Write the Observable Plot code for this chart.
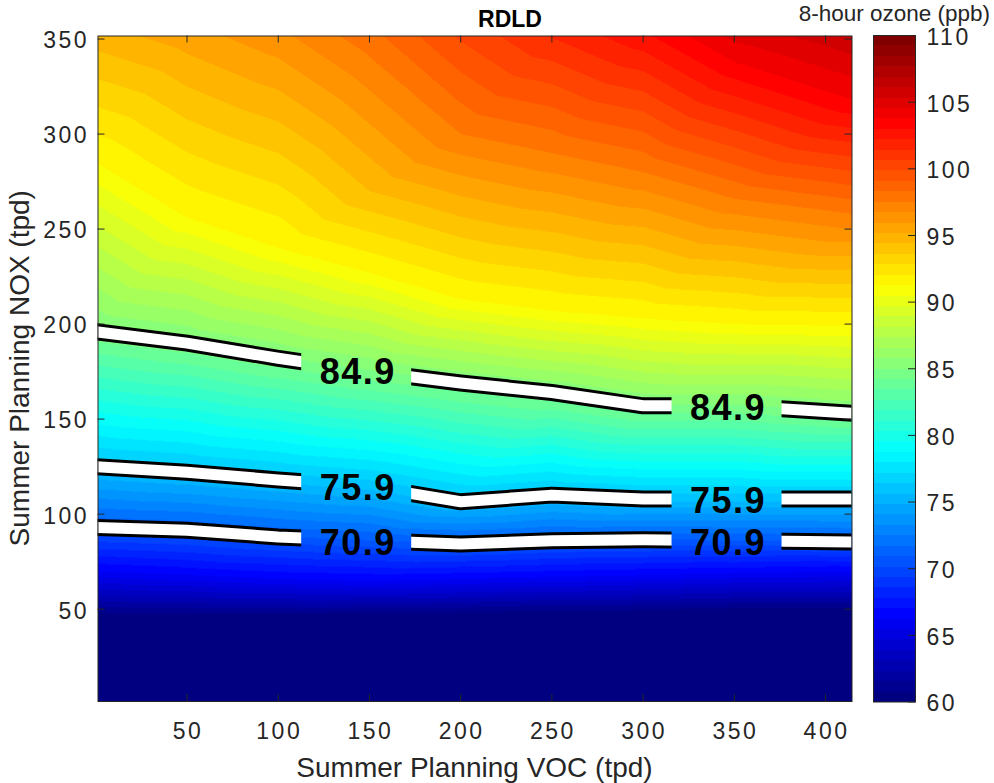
<!DOCTYPE html>
<html>
<head>
<meta charset="utf-8">
<script src="https://cdn.jsdelivr.net/npm/d3@7"></script>
<script src="https://cdn.jsdelivr.net/npm/@observablehq/plot@0.6"></script>
<style>
  body { margin: 0; background: #fff; }
  #chart { position: relative; width: 994px; height: 783px; }
  #chart svg { position: absolute; left: 0; top: 0; }
</style>
</head>
<body>
<div id="chart"></div>
<script>
// Grid columns (Summer Planning VOC, tpd) along which the ozone surface is sampled
const vocColumns = [0, 50, 100, 150, 200, 250, 300, 350, 415];
// 8-hour ozone (ppb) at the bottom (NOX = 0) and top (NOX = 352) of each column
const noxFloor = 0;
const noxCeiling = 352;
const ozoneAtFloor = [57, 57, 57, 57, 57, 57, 57, 57, 57];
const ozoneAtCeiling = [94.8, 95.6, 96.5, 98, 100, 101.5, 102.8, 104.8, 106];
// Ozone levels and the NOX (tpd) at which each level is reached along each column
const isoLevels = [60, 66.25, 70.9, 75.9, 84.9, 91.25, 97.5, 103.75];
const isoNox = [
  [45, 45, 45, 46, 46, 47, 47, 48, 48],
  [70, 68, 66, 65, 66, 67, 68, 69, 70],
  [93, 91.5, 88, 86, 84.3, 86, 86.5, 86, 85.3],
  [125, 122, 118, 114.5, 106.5, 110, 108, 108, 108],
  [196, 190, 182, 175, 169, 164, 157, 157, 153],
  [285, 256, 240, 227, 213, 207, 203, 200, 199],
  [null, null, null, null, 300, 290, 280, 266, 258],
  [null, null, null, null, null, null, null, 338, 318]
];
// Highlighted contours and the VOC positions of their inline labels
const contourLevels = [70.9, 75.9, 84.9];
const labelVoc = [143, 346];

// Axes
const vocRange = [1.2, 414.5];
const noxRange = [1.4, 351.6];
const ozoneRange = [60, 110];
const vocTicks = [50, 100, 150, 200, 250, 300, 350, 400];
const noxTicks = [50, 100, 150, 200, 250, 300, 350];
const ozoneTicks = [60, 65, 70, 75, 80, 85, 90, 95, 100, 105, 110];

// Sample points of the surface
const samples = [];
vocColumns.forEach((voc, j) => {
  samples.push({voc, nox: noxFloor, ozone: ozoneAtFloor[j]});
  isoLevels.forEach((level, i) => {
    const nox = isoNox[i][j];
    if (nox != null) samples.push({voc, nox, ozone: level});
  });
  samples.push({voc, nox: noxCeiling, ozone: ozoneAtCeiling[j]});
});

// Highlighted contour paths
const contourPaths = contourLevels.flatMap(level =>
  vocColumns.map((voc, j) => ({level, voc, nox: isoNox[isoLevels.indexOf(level)][j]}))
);

// Inline contour labels sit on their contour at the chosen VOC positions
const labels = contourLevels.flatMap(level => {
  const along = d3.scaleLinear(vocColumns, isoNox[isoLevels.indexOf(level)]);
  return labelVoc.map(voc => ({voc, nox: along(voc), text: level.toFixed(1)}));
});

// 64-step jet colormap, split evenly over 60–110 ppb
function jet(t) {
  const c = v => Math.max(0, Math.min(1, v));
  return d3.rgb(
    255 * c(1.5 - Math.abs(4 * t - 3)),
    255 * c(1.5 - Math.abs(4 * t - 2)),
    255 * c(1.5 - Math.abs(4 * t - 1))
  ).formatHex();
}
const nColors = 64;
const jetColors = d3.range(nColors).map(i => jet(i / (nColors - 1)));
const bandEdges = d3.range(1, nColors).map(i => ozoneRange[0] + i * (ozoneRange[1] - ozoneRange[0]) / nColors);
const colorScale = {type: "threshold", domain: bandEdges, range: jetColors};

const W = 994, H = 783;
const ink = "#262626";
const font = "'Liberation Sans', Arial, sans-serif";
const frame = {left: 97.5, right: 851.5, top: 35.5, bottom: 701};
const frameW = frame.right - frame.left;
const frameH = frame.bottom - frame.top;
const tickLen = 7;
const tickFont = 23;
const tickSpacing = "2.5px";

const contourLine = (stroke, strokeWidth) => Plot.line(contourPaths, {
  x: "voc", y: "nox", z: "level",
  stroke, strokeWidth,
  strokeLinejoin: "round",
  clip: true
});

const main = Plot.plot({
  width: W, height: H,
  marginLeft: frame.left, marginRight: W - frame.right,
  marginTop: frame.top, marginBottom: H - frame.bottom,
  style: {fontFamily: font, fontSize: `${tickFont}px`, color: ink, background: "none"},
  x: {domain: vocRange, label: null},
  y: {domain: noxRange, label: null},
  color: colorScale,
  marks: [
    Plot.raster(samples, {
      x: "voc", y: "nox", fill: "ozone",
      interpolate: "barycentric",
      x1: vocRange[0], x2: vocRange[1], y1: noxRange[0], y2: noxRange[1]
    }),
    contourLine("black", 17),
    contourLine("white", 11),
    Plot.text(labels, {
      x: "voc", y: "nox", text: "text",
      fontSize: 36, fontWeight: "bold", fill: "black", dy: 3, dx: 1
    }),
    Plot.frame({stroke: ink}),
    Plot.tickX(vocTicks, {x: d => d, insetTop: frameH - tickLen, stroke: ink}),
    Plot.tickX(vocTicks, {x: d => d, insetBottom: frameH - tickLen, stroke: ink}),
    Plot.tickY(noxTicks, {y: d => d, insetRight: frameW - tickLen, stroke: ink}),
    Plot.tickY(noxTicks, {y: d => d, insetLeft: frameW - tickLen, stroke: ink}),
    Plot.axisX({ticks: vocTicks, tickSize: 0, tickPadding: 21, fontSize: tickFont, dx: 1, label: null}),
    Plot.axisY({ticks: noxTicks, tickSize: 0, tickPadding: 9, fontSize: tickFont, dy: 2, label: null})
  ]
});

{
  const svg = d3.select(main);
  svg.selectAll('g[aria-label$="tick label"]').style("letter-spacing", tickSpacing);
  svg.selectAll('g[aria-label="text"]').style("letter-spacing", "1.5px");

  // Break the contour lines where their labels sit
  const xs = main.scale("x"), ys = main.scale("y");
  const defs = svg.insert("defs", ":first-child");
  const mask = defs.append("mask").attr("id", "label-gaps")
    .attr("maskUnits", "userSpaceOnUse")
    .attr("x", 0).attr("y", 0).attr("width", W).attr("height", H);
  mask.append("rect").attr("width", W).attr("height", H).attr("fill", "white");
  for (const d of labels) {
    mask.append("rect")
      .attr("x", xs.apply(d.voc) - 55).attr("y", ys.apply(d.nox) - 22)
      .attr("width", 110).attr("height", 44).attr("fill", "black");
  }
  const lines = svg.selectAll('g[aria-label="line"]').nodes();
  if (lines.length) {
    const wrap = svg.insert("g", () => lines[0]).attr("mask", "url(#label-gaps)");
    lines.forEach(n => wrap.node().appendChild(n));
  }
}

// Colorbar
const barLeft = 873, barRight = 915;
const bar = Plot.plot({
  width: W, height: H,
  marginLeft: barLeft, marginRight: W - barRight,
  marginTop: 35, marginBottom: H - 701.5,
  style: {fontFamily: font, fontSize: `${tickFont}px`, color: ink, background: "none"},
  x: {domain: [0, 1], axis: null},
  y: {domain: ozoneRange, label: null},
  color: colorScale,
  marks: [
    Plot.raster({fill: (x, y) => y, x1: 0, x2: 1, y1: ozoneRange[0], y2: ozoneRange[1], imageRendering: "pixelated"}),
    Plot.frame({stroke: ink}),
    Plot.tickY(ozoneTicks, {y: d => d, insetLeft: (barRight - barLeft) - tickLen, stroke: ink}),
    Plot.axisY({ticks: ozoneTicks, anchor: "right", tickSize: 0, tickPadding: 11, fontSize: tickFont, dy: 2, label: null})
  ]
});

// Titles and axis names
{
  const svg = d3.select(bar);
  svg.selectAll('g[aria-label$="tick label"]').style("letter-spacing", tickSpacing);
  const text = (s, x, y, opts = {}) => svg.append("text")
    .attr("x", x).attr("y", y)
    .attr("text-anchor", opts.anchor || "middle")
    .attr("font-family", font)
    .attr("font-size", opts.size || 23)
    .attr("font-weight", opts.weight || "normal")
    .attr("fill", opts.fill || ink)
    .text(s);
  text("RDLD", 510, 27, {weight: "bold", fill: "black"});
  text("8-hour ozone (ppb)", 990, 20.5, {anchor: "end", size: 22.5});
  text("Summer Planning VOC (tpd)", (frame.left + frame.right) / 2, 777, {size: 28});
  svg.append("text")
    .attr("transform", `translate(29,${(frame.top + frame.bottom) / 2}) rotate(-90)`)
    .attr("text-anchor", "middle")
    .attr("font-family", font)
    .attr("font-size", 28)
    .attr("fill", ink)
    .text("Summer Planning NOX (tpd)");
}

const chart = document.getElementById("chart");
chart.appendChild(main);
chart.appendChild(bar);
</script>
</body>
</html>
